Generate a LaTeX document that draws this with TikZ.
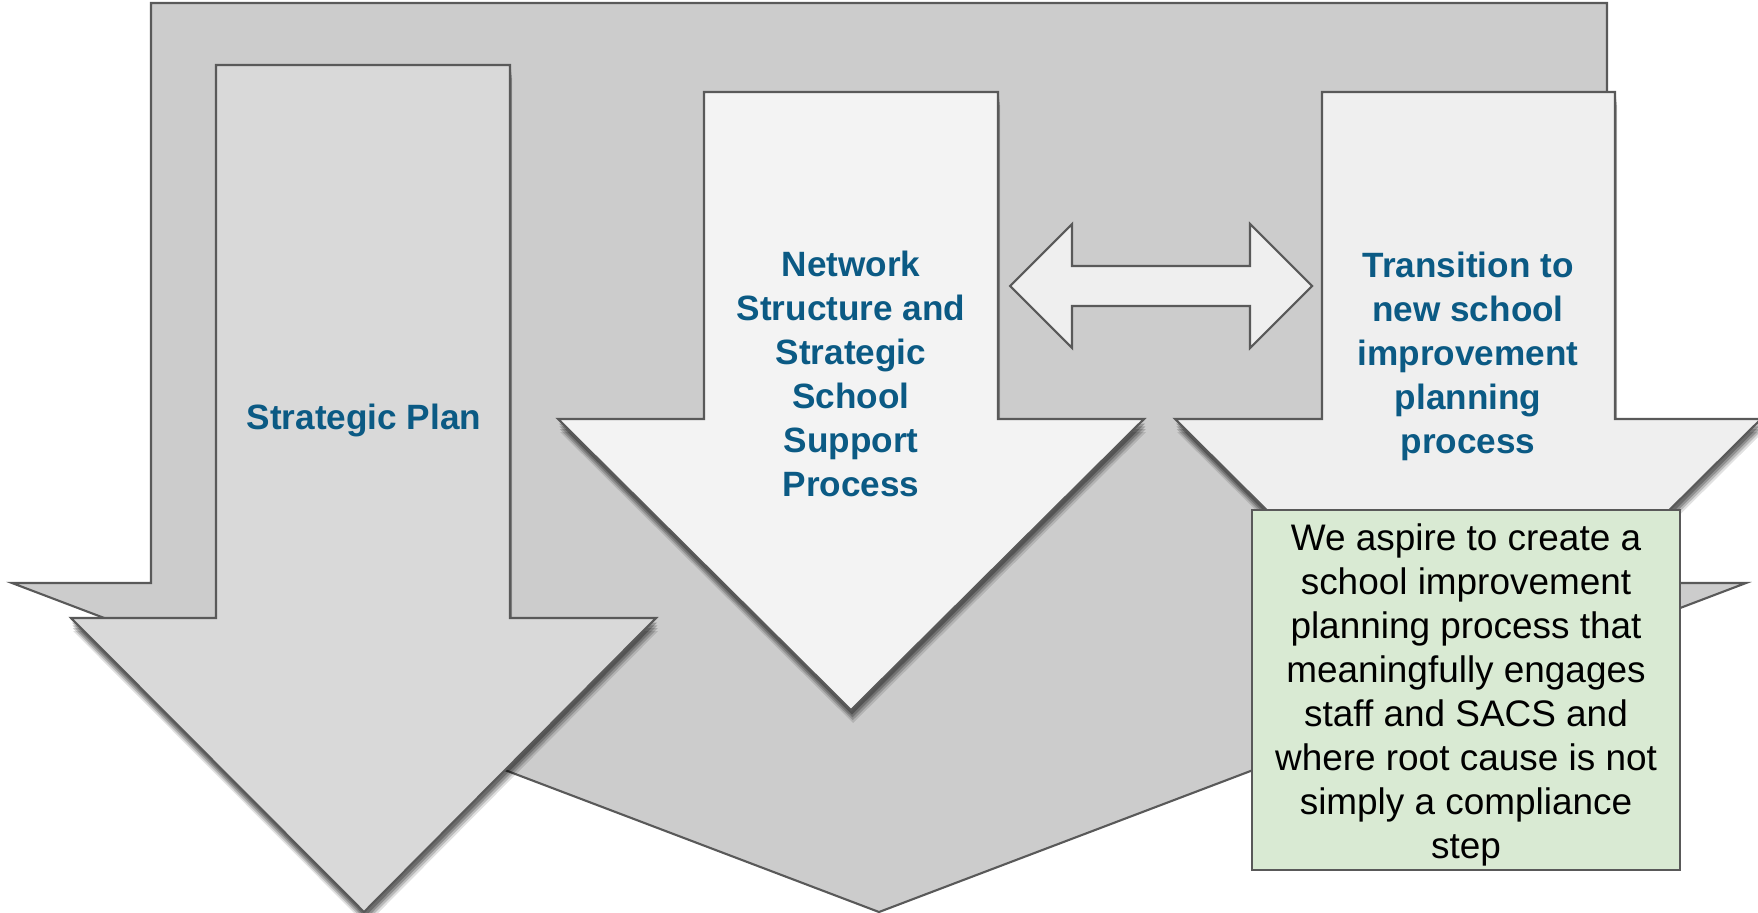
\documentclass[tikz,border=0pt]{standalone}
\usepackage{fontspec}
\setmainfont{Liberation Sans}
\usepackage{xcolor}
\usetikzlibrary{shadows,positioning}
\definecolor{bggray}{HTML}{CCCCCC}
\definecolor{plangray}{HTML}{D9D9D9}
\definecolor{netgray}{HTML}{F3F3F3}
\definecolor{transgray}{HTML}{EFEFEF}
\definecolor{edgegray}{HTML}{595959}
\definecolor{titleblue}{HTML}{0B5A84}
\definecolor{notegreen}{HTML}{D9EAD3}
\tikzstyle{bigarrow} = [draw=edgegray, fill=bggray, line width=0.6pt, line join=miter]
\tikzstyle{softshadow} = [general shadow={shadow xshift=0.3pt, shadow yshift=-1.3pt, fill=black, opacity=0.25},
  general shadow={shadow xshift=0.4pt, shadow yshift=-2.1pt, fill=black, opacity=0.22},
  general shadow={shadow xshift=0.5pt, shadow yshift=-2.9pt, fill=black, opacity=0.18},
  general shadow={shadow xshift=0.6pt, shadow yshift=-3.7pt, fill=black, opacity=0.12}]
\tikzstyle{blockarrow} = [draw=edgegray, line width=0.6pt, softshadow]
\tikzstyle{title} = [text=titleblue, font=\bfseries\fontsize{10}{12.5}\selectfont, align=center]
\tikzstyle{notebox} = [draw=edgegray, fill=notegreen, line width=0.6pt, inner sep=0pt, minimum width=4.28cm, minimum height=3.6cm]
\tikzstyle{notetext} = [align=center, inner sep=0pt, font=\fontsize{10.5}{12.5}\selectfont]

\begin{document}
\begin{tikzpicture}[x=0.01cm, y=-0.01cm]
\useasboundingbox (0,0) rectangle (1758,912);
% big background arrow
\draw[bigarrow] (151,3) -- (1607,3) -- (1607,583) -- (1746,583) -- (879,912) -- (12,583) -- (151,583) -- cycle;
% the three block arrows
\draw[blockarrow, fill=plangray] (216,65) -- (510,65) -- (510,618) -- (656,618) -- (364,912) -- (71,618) -- (216,618) -- cycle;
\draw[blockarrow, fill=netgray] (704,92) -- (998,92) -- (998,419) -- (1144,419) -- (851,710) -- (558,419) -- (704,419) -- cycle;
\draw[blockarrow, fill=transgray] (1322,92) -- (1615,92) -- (1615,419) -- (1761,419) -- (1468,710) -- (1175,419) -- (1322,419) -- cycle;
% two-way arrow
\draw[draw=edgegray, fill=transgray, line width=0.6pt] (1010,286) -- (1072,224) -- (1072,266) -- (1250,266) -- (1250,224) -- (1312,286) -- (1250,348) -- (1250,306) -- (1072,306) -- (1072,348) -- cycle;

\node[title] (plan) at (364,420) {Strategic Plan};
\node[title] (network) at (851,374) {Network\\Structure and\\Strategic\\School\\Support\\Process};
\node[title] (transition) at (1468,356) {Transition to\\new school\\improvement\\planning\\process};
\node[notebox] (aspire) at (1466,690) {};
\node[notetext] (aspiretext) at (1466,695) {We aspire to create a\\school improvement\\planning process that\\meaningfully engages\\staff and SACS and\\where root cause is not\\simply a compliance\\step};
\end{tikzpicture}
\end{document}
